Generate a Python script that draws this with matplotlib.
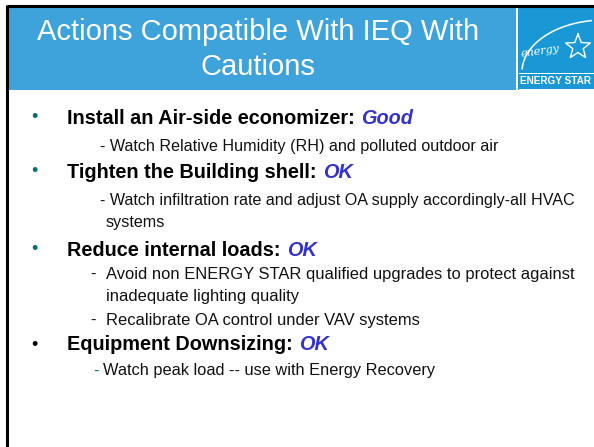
import matplotlib.pyplot as plt
from matplotlib.patches import Rectangle
import numpy as np

plt.rcParams['font.family'] = ['Liberation Sans', 'DejaVu Sans']

title_lines = ['Actions Compatible With IEQ With', 'Cautions']

# main bullets
headings = ['Install an Air-side economizer: ', 'Tighten the Building shell: ',
            'Reduce internal loads: ', 'Equipment Downsizing: ']
ratings = ['Good', 'OK', 'OK', 'OK']
heading_y = [118, 172, 250, 345]
bullet_colors = ['#007070', '#007070', '#007070', '#000000']

# sub lines
sub_text = ['- Watch Relative Humidity (RH) and polluted outdoor air',
            '- Watch infiltration rate and adjust OA supply accordingly-all HVAC',
            'systems',
            'Avoid non ENERGY STAR qualified upgrades to protect against',
            'inadequate lighting quality',
            'Recalibrate OA control under VAV systems',
            'Watch peak load -- use with Energy Recovery']
sub_x = [100, 100, 106, 106, 106, 106, 103]
sub_y = [146, 201, 222, 274, 297, 320, 371]
sub_size = [11.6, 11.6, 11.6, 11.85, 11.85, 11.85, 11.8]
# separate dashes: (x, y, colour)
dash_x = [90, 90, 93]
dash_y = [274, 320, 371]
dash_c = ['#111111', '#111111', '#007070']

W, H = 594, 447
fig = plt.figure(figsize=(W / 100, H / 100), dpi=100)
ax = fig.add_axes([0, 0, 1, 1])
ax.set_xlim(0, W)
ax.set_ylim(H, 0)
ax.axis('off')

# slide frame
ax.plot([7, W], [6, 6], color='black', lw=2.2, solid_capstyle='butt')
ax.plot([7, 7], [5, H], color='black', lw=2.2, solid_capstyle='butt')

# title bar
ax.add_patch(Rectangle((8, 8), 508, 82, facecolor='#3ea2db', edgecolor='none'))
ax.text(258, 32, title_lines[0], color='white', fontsize=21, ha='center', va='center')
ax.text(258, 67, title_lines[1], color='white', fontsize=21, ha='center', va='center')

# energy star logo
ax.add_patch(Rectangle((518, 8), 76, 82, facecolor='#1a98d5', edgecolor='none'))
ax.add_patch(Rectangle((519, 72.5), 75, 1.3, facecolor='white', edgecolor='none'))
ax.add_patch(Rectangle((519, 88.5), 75, 1.3, facecolor='white', edgecolor='none'))
a = np.linspace(np.pi * 0.98, np.pi * 0.55, 40)
ax.plot(604 + 82 * np.cos(a), 72 - 52 * np.sin(a), color='white', lw=1.1)
ax.text(540, 51, 'energy', color='white', fontsize=8, style='italic', ha='center',
        va='center', family=['DejaVu Serif'], rotation=8)
t = np.linspace(0, 2 * np.pi, 11) + np.pi / 2
r = np.where(np.arange(11) % 2 == 0, 13, 5.5)
ax.plot(578 + r * np.cos(t), 47 - r * np.sin(t), color='white', lw=1.0)
ax.text(556, 81, 'ENERGY STAR', color='white', fontsize=7.2, weight='bold', ha='center',
        va='center')

# bullets and headings
fig.canvas.draw()
inv = ax.transData.inverted()
for txt, rate, y, bc in zip(headings, ratings, heading_y, bullet_colors):
    ax.text(34, y, '•', color=bc, fontsize=13, ha='center', va='center')
    h = ax.text(67, y, txt, color='black', fontsize=14.3, weight='bold', va='center')
    bb = h.get_window_extent(renderer=fig.canvas.get_renderer())
    x1 = inv.transform((bb.x1, bb.y0))[0]
    ax.text(x1 + 1, y, rate, color='#3333cc', fontsize=14.3, weight='bold',
            style='italic', va='center')

# sub lines
for x, y, txt, fs in zip(sub_x, sub_y, sub_text, sub_size):
    ax.text(x, y, txt, fontsize=fs, va='center', color='#111111')
for x, y, c in zip(dash_x, dash_y, dash_c):
    ax.text(x, y, '-', fontsize=11.8, va='center', color=c)

fig.savefig('out.png', dpi=100)
